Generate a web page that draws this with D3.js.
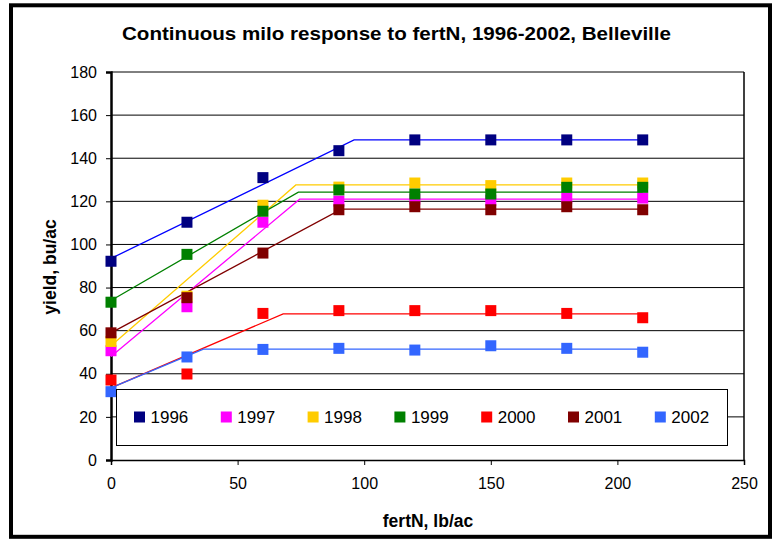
<!DOCTYPE html>
<html>
<head>
<meta charset="utf-8">
<script src="https://cdn.jsdelivr.net/npm/d3@7"></script>
<style>
body { margin: 0; background: #fff; }
text { font-family: Arial, "Liberation Sans", sans-serif; }
</style>
</head>
<body>
<script>
var W = 773, H = 541;
var margin = {top: 72, right: 29, bottom: 81, left: 111},
    width = W - margin.left - margin.right,
    height = H - margin.top - margin.bottom;

// fertilizer rates (lb/ac)
var rates = [0, 30, 60, 90, 120, 150, 180, 210];

var years = ['1996', '1997', '1998', '1999', '2000', '2001', '2002'];
var markerColors = ['#000080', '#FF00FF', '#FFCC00', '#008000', '#FF0000', '#800000', '#3366FF'];
var lineColors = ['#0000FF', '#FF00FF', '#FFCC00', '#008000', '#FF0000', '#800000', '#3366FF'];

// observed yields (bu/ac)
var y1996 = [92.2, 110.3, 131.0, 143.5, 148.5, 148.5, 148.5, 148.5];
var y1997 = [50.7, 71.1, 110.3, 120.1, 121.0, 120.5, 121.5, 121.5];
var y1998 = [55.0, 76.0, 118.2, 126.6, 128.5, 127.3, 128.5, 128.5];
var y1999 = [73.2, 95.4, 115.4, 125.3, 123.4, 123.4, 126.5, 126.5];
var y2000 = [37.1, 39.9, 68.0, 69.3, 69.3, 69.3, 68.0, 66.0];
var y2001 = [59.0, 75.3, 96.0, 116.1, 117.5, 116.1, 117.5, 116.1];
var y2002 = [31.7, 47.8, 51.3, 51.8, 51.0, 53.0, 51.8, 50.0];

// linear-plateau fits: [rate, yield] vertices
var fit1996 = [[0, 93.5], [96, 148.5], [210, 148.5]];
var fit1997 = [[0, 48.0], [74.5, 121.0], [210, 121.0]];
var fit1998 = [[0, 53.0], [73, 127.6], [210, 127.6]];
var fit1999 = [[0, 74.0], [74, 124.3], [210, 124.3]];
var fit2000 = [[0, 33.5], [68, 67.8], [210, 67.8]];
var fit2001 = [[0, 59.0], [91, 116.4], [210, 116.4]];
var fit2002 = [[0, 33.5], [36.5, 51.4], [210, 51.4]];

var xTicks = [0, 50, 100, 150, 200, 250];
var yTicks = [0, 20, 40, 60, 80, 100, 120, 140, 160, 180];

var observed = [y1996, y1997, y1998, y1999, y2000, y2001, y2002];
var fits = [fit1996, fit1997, fit1998, fit1999, fit2000, fit2001, fit2002];

var xScale = d3.scaleLinear().domain([0, 250]).range([0, width]);
var yScale = d3.scaleLinear().domain([0, 180]).range([height, 0]);

var svg = d3.select('body')
    .append('svg')
    .attr('width', W)
    .attr('height', H);

// outer frame
svg.append('rect')
    .attr('x', 11).attr('y', 5.3)
    .attr('width', 759).attr('height', 531.5)
    .attr('fill', '#fff')
    .attr('stroke', '#000')
    .attr('stroke-width', 4);

svg.append('text')
    .attr('x', 396.5).attr('y', 39.5)
    .attr('text-anchor', 'middle')
    .attr('textLength', 549)
    .attr('lengthAdjust', 'spacingAndGlyphs')
    .style('font-size', '19px')
    .style('font-weight', 'bold')
    .text('Continuous milo response to fertN, 1996-2002, Belleville');

var g = svg.append('g')
    .attr('transform', 'translate(' + margin.left + ',' + margin.top + ')');

// gridlines
g.selectAll('.grid')
    .data(yTicks.filter(function(d) { return d > 0; }))
    .enter()
    .append('line')
    .attr('x1', 0).attr('x2', width)
    .attr('y1', function(d) { return yScale(d); })
    .attr('y2', function(d) { return yScale(d); })
    .attr('stroke', '#000')
    .attr('stroke-width', 1);

// plot area right edge
g.append('line')
    .attr('x1', width).attr('x2', width)
    .attr('y1', 0).attr('y2', height)
    .attr('stroke', '#000')
    .attr('stroke-width', 1.5);

// axes
var xAxis = g.append('g')
    .attr('transform', 'translate(0,' + height + ')')
    .call(d3.axisBottom(xScale).tickValues(xTicks).tickSize(5).tickPadding(13));
var yAxis = g.append('g')
    .call(d3.axisLeft(yScale).tickValues(yTicks).tickSize(5).tickPadding(9));

[xAxis, yAxis].forEach(function(a) {
    a.selectAll('text').style('font-size', '16px').attr('fill', '#000');
    a.selectAll('.tick line').attr('stroke', '#000');
});
xAxis.select('.domain').attr('stroke', '#000').attr('stroke-width', 1.5);
yAxis.select('.domain').attr('stroke', '#000').attr('stroke-width', 2.5);

// legend box (drawn before the data so the 0 rate markers sit over it)
var legend = svg.append('g');
legend.append('rect')
    .attr('x', 116.5).attr('y', 389.5)
    .attr('width', 611).attr('height', 56)
    .attr('fill', '#fff')
    .attr('stroke', '#000')
    .attr('stroke-width', 1);

var line = d3.line()
    .x(function(d) { return xScale(d[0]); })
    .y(function(d) { return yScale(d[1]); });

g.selectAll('.fit')
    .data(fits)
    .enter()
    .append('path')
    .attr('d', line)
    .attr('fill', 'none')
    .attr('stroke', function(d, i) { return lineColors[i]; })
    .attr('stroke-width', 1.3);

var ms = 11;
observed.forEach(function(ys, i) {
    g.selectAll('.pt' + i)
        .data(ys)
        .enter()
        .append('rect')
        .attr('x', function(d, j) { return xScale(rates[j]) - ms / 2; })
        .attr('y', function(d) { return yScale(d) - ms / 2; })
        .attr('width', ms).attr('height', ms)
        .attr('fill', markerColors[i]);
});

// legend entries
var items = legend.selectAll('.item')
    .data(years)
    .enter()
    .append('g')
    .attr('transform', function(d, i) { return 'translate(' + (134 + i * 86.8) + ',411.5)'; });
items.append('rect')
    .attr('width', 11).attr('height', 11)
    .attr('fill', function(d, i) { return markerColors[i]; });
items.append('text')
    .attr('x', 16.5).attr('y', 11.5)
    .style('font-size', '17px')
    .text(function(d) { return d; });

// axis titles
svg.append('text')
    .attr('x', 428).attr('y', 527)
    .attr('text-anchor', 'middle')
    .style('font-size', '17.5px')
    .style('font-weight', 'bold')
    .text('fertN, lb/ac');

svg.append('text')
    .attr('transform', 'translate(56,267) rotate(-90)')
    .attr('text-anchor', 'middle')
    .style('font-size', '17.5px')
    .style('font-weight', 'bold')
    .text('yield, bu/ac');
</script>
</body>
</html>
